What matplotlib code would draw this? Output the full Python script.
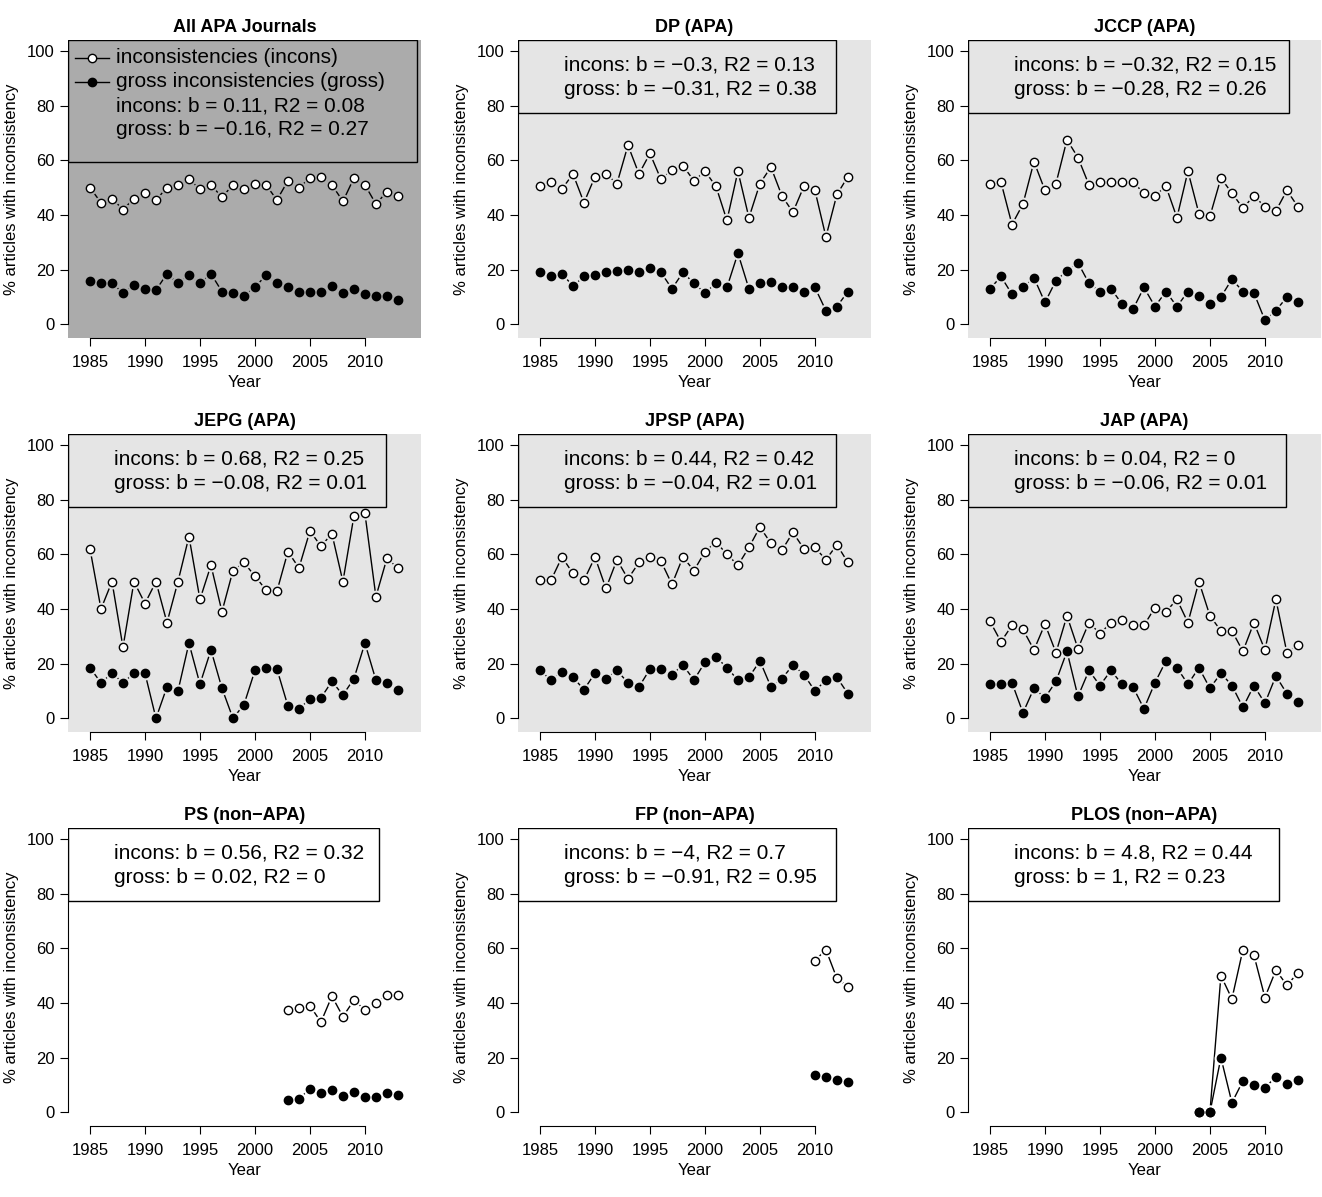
import numpy as np
import matplotlib.pyplot as plt
from matplotlib.patches import Rectangle
from matplotlib.lines import Line2D

plt.rcParams['font.family'] = ['Liberation Sans', 'DejaVu Sans']

years_all = list(range(1985, 2014))

titles = ["All APA Journals", "DP (APA)", "JCCP (APA)", "JEPG (APA)", "JPSP (APA)",
          "JAP (APA)", "PS (non\u2212APA)", "FP (non\u2212APA)", "PLOS (non\u2212APA)"]

all_incons = [50, 44.5, 46, 42, 46, 48, 45.5, 50, 51, 53, 49.5, 51, 46.5, 51, 49.5, 51.5, 51, 45.5,
              52.5, 50, 53.5, 54, 51, 45, 53.5, 51, 44, 48.5, 47]
all_gross = [16, 15, 15, 11.5, 14.5, 13, 12.5, 18.5, 15, 18, 15, 18.5, 12, 11.5, 10.5, 13.5, 18, 15,
             13.5, 12, 12, 12, 14, 11.5, 13, 11, 10.5, 10.5, 9]
dp_incons = [50.5, 52, 49.5, 55, 44.5, 54, 55, 51.5, 65.5, 55, 62.5, 53, 56.5, 58, 52.5, 56, 50.5, 38,
             56, 39, 51.5, 57.5, 47, 41, 50.5, 49, 32, 47.5, 54]
dp_gross = [19, 17.5, 18.5, 14, 17.5, 18, 19, 19.5, 20, 19, 20.5, 19, 13, 19, 15, 11.5, 15, 13.5,
            26, 13, 15, 15.5, 13.5, 13.5, 12, 13.5, 5, 6.5, 12]
jccp_incons = [51.5, 52, 36.5, 44, 59.5, 49, 51.5, 67.5, 61, 51, 52, 52, 52, 52, 48, 47, 50.5, 39,
               56, 40.5, 39.5, 53.5, 48, 42.5, 47, 43, 41.5, 49, 43]
jccp_gross = [13, 17.5, 11, 13.5, 17, 8, 16, 19.5, 22.5, 15, 12, 13, 7.5, 5.5, 13.5, 6.5, 12, 6.5,
              12, 10.5, 7.5, 10, 16.5, 12, 11.5, 1.5, 5, 10, 8]
jepg_incons = [62, 40, 50, 26, 50, 42, 50, 35, 50, 66.5, 43.5, 56, 39, 54, 57, 52, 47, 46.5,
               61, 55, 68.5, 63, 67.5, 50, 74, 75, 44.5, 58.5, 55]
jepg_gross = [18.5, 13, 16.5, 13, 16.5, 16.5, 0, 11.5, 10, 27.5, 12.5, 25, 11, 0, 5, 17.5, 18.5, 18,
              4.5, 3.5, 7, 7.5, 13.5, 8.5, 14.5, 27.5, 14, 13, 10.5]
jpsp_incons = [50.5, 50.5, 59, 53, 50.5, 59, 47.5, 58, 51, 57, 59, 57.5, 49, 59, 54, 61, 64.5, 60,
               56, 62.5, 70, 64, 61.5, 68, 62, 62.5, 58, 63.5, 57]
jpsp_gross = [17.5, 14, 17, 15, 10.5, 16.5, 14.5, 17.5, 13, 11.5, 18, 18, 16, 19.5, 14, 20.5, 22.5, 18.5,
              14, 15, 21, 11.5, 14.5, 19.5, 16, 10, 14, 15, 9]
jap_incons = [35.5, 28, 34, 32.5, 25, 34.5, 24, 37.5, 25.5, 35, 31, 35, 36, 34, 34, 40.5, 39, 43.5,
              35, 50, 37.5, 32, 32, 24.5, 35, 25, 43.5, 24, 27]
jap_gross = [12.5, 12.5, 13, 2, 11, 7.5, 13.5, 24.5, 8, 17.5, 12, 17.5, 12.5, 11.5, 3.5, 13, 21, 18.5,
             12.5, 18.5, 11, 16.5, 12, 4, 12, 5.5, 15.5, 9, 6]
ps_years = list(range(2003, 2014))
ps_incons = [37.5, 38, 39, 33, 42.5, 35, 41, 37.5, 40, 43, 43]
ps_gross = [4.5, 5, 8.5, 7, 8, 6, 7.5, 5.5, 5.5, 7, 6.5]
fp_years = list(range(2010, 2014))
fp_incons = [55.5, 59.5, 49, 46]
fp_gross = [13.5, 13, 12, 11]
plos_years = list(range(2004, 2014))
plos_incons = [0, 0, 50, 41.5, 59.5, 57.5, 42, 52, 46.5, 51]
plos_gross = [0, 0, 20, 3.5, 11.5, 10, 9, 13, 10.5, 12]

stats = [("0.11", "0.08", "\u22120.16", "0.27"), ("\u22120.3", "0.13", "\u22120.31", "0.38"),
         ("\u22120.32", "0.15", "\u22120.28", "0.26"), ("0.68", "0.25", "\u22120.08", "0.01"),
         ("0.44", "0.42", "\u22120.04", "0.01"), ("0.04", "0", "\u22120.06", "0.01"),
         ("0.56", "0.32", "0.02", "0"), ("\u22124", "0.7", "\u22120.91", "0.95"),
         ("4.8", "0.44", "1", "0.23")]

series = [(years_all, all_incons, all_gross), (years_all, dp_incons, dp_gross),
          (years_all, jccp_incons, jccp_gross), (years_all, jepg_incons, jepg_gross),
          (years_all, jpsp_incons, jpsp_gross), (years_all, jap_incons, jap_gross),
          (ps_years, ps_incons, ps_gross), (fp_years, fp_incons, fp_gross),
          (plos_years, plos_incons, plos_gross)]

bgs = ["#ababab"] + ["#e5e5e5"] * 5 + ["white"] * 3
box_w = [0.99, 0.9, 0.91, 0.9, 0.9, 0.9, 0.88, 0.9, 0.88]

W, H = 1322, 1197
fig = plt.figure(figsize=(W / 100, H / 100), dpi=100)
lefts = [68, 518, 968]
tops = [40, 434, 828]
pw, ph = 353, 298


def draw_b(ax, x, y, filled, bg):
    # R type="b": lines stop short of the points
    ax.plot(x, y, color='black', lw=1, zorder=2)
    ax.plot(x, y, ls='none', marker='o', ms=10, mfc=bg, mec='none', zorder=3)
    ax.plot(x, y, ls='none', marker='o', ms=6, mfc='black' if filled else 'white',
            mec='black', mew=1, zorder=4)


for i in range(9):
    r, c = divmod(i, 3)
    ax = fig.add_axes([lefts[c] / W, 1 - (tops[r] + ph) / H, pw / W, ph / H])
    bg = bgs[i]
    ax.set_facecolor(bg)
    x, inc, gr = series[i]
    draw_b(ax, x, inc, False, bg)
    draw_b(ax, x, gr, True, bg)
    ax.set_xlim(1983, 2015.1)
    ax.set_ylim(-5, 104)
    for s in ['top', 'right']:
        ax.spines[s].set_visible(False)
    ax.spines['left'].set_bounds(0, 100)
    ax.spines['bottom'].set_bounds(1985, 2010)
    ax.set_xticks([1985, 1990, 1995, 2000, 2005, 2010])
    ax.set_yticks([0, 20, 40, 60, 80, 100])
    ax.tick_params(labelsize=12, length=6, direction='out')
    ax.tick_params(axis='x', pad=6)
    ax.set_xlabel("Year", fontsize=12, labelpad=4)
    ax.set_ylabel("% articles with inconsistency", fontsize=12, labelpad=6)
    ax.set_title(titles[i], fontsize=13, fontweight='bold', pad=6)
    b1, r1, b2, r2 = stats[i]
    t1 = f"incons: b = {b1}, R2 = {r1}"
    t2 = f"gross: b = {b2}, R2 = {r2}"
    if i == 0:
        bh = 0.41
        ax.add_patch(Rectangle((0, 1 - bh), box_w[i], bh, transform=ax.transAxes,
                               fc='none', ec='black', lw=1, zorder=5))
        lines = [("inconsistencies (incons)", 'white'), ("gross inconsistencies (gross)", 'black'),
                 (t1, None), (t2, None)]
        for k, (txt, mf) in enumerate(lines):
            yy = 0.94 - k * 0.08
            if mf is not None:
                ax.add_line(Line2D([0.02, 0.115], [yy, yy], transform=ax.transAxes, color='black',
                                   lw=1, zorder=6))
                ax.plot([0.067], [yy], transform=ax.transAxes, marker='o', ms=6, mfc=mf,
                        mec='black', zorder=7)
            ax.text(0.135, yy, txt, transform=ax.transAxes, fontsize=15, va='center', zorder=6)
    else:
        bh = 0.245
        ax.add_patch(Rectangle((0, 1 - bh), box_w[i], bh, transform=ax.transAxes,
                               fc='none', ec='black', lw=1, zorder=5))
        ax.text(0.13, 0.915, t1, transform=ax.transAxes, fontsize=15, va='center', zorder=6)
        ax.text(0.13, 0.835, t2, transform=ax.transAxes, fontsize=15, va='center', zorder=6)

fig.savefig("out.png", dpi=100)
